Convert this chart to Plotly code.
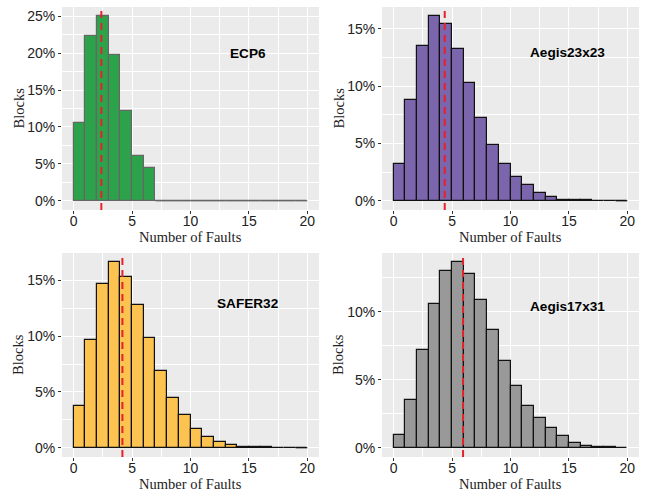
import plotly.graph_objects as go

bins = list(range(20))  # left edges of unit-width bins: 0..19
tick_vals_x = [0, 5, 10, 15, 20]

ecp6 = [10.5, 22.3, 25.0, 19.7, 12.1, 6.1, 4.5] + [0]*13
aegis23 = [3.23, 8.8, 13.5, 16.1, 15.4, 13.2, 10.25, 7.2, 4.83, 3.17,
           2.04, 1.34, 0.66, 0.29, 0.10, 0.05, 0.03, 0.02, 0.01, 0.0]
safer32 = [3.70, 9.64, 14.64, 16.63, 15.33, 12.8, 9.88, 6.9, 4.43, 2.92,
           1.66, 0.93, 0.48, 0.21, 0.10, 0.05, 0.06, 0.02, 0.01, 0.0]
aegis17 = [0.94, 3.53, 7.16, 10.59, 12.96, 13.63, 12.77, 10.89, 8.67, 6.37,
           4.54, 3.09, 2.17, 1.48, 0.86, 0.37, 0.15, 0.07, 0.03, 0.01]

means = {"ECP6": 2.37, "Aegis23x23": 4.37, "SAFER32": 4.17, "Aegis17x31": 5.94}
names = ["ECP6", "Aegis23x23", "SAFER32", "Aegis17x31"]
series = [ecp6, aegis23, safer32, aegis17]
fills = ["#2CA24B", "#7B65AD", "#FDC350", "#999999"]
outlines = ["#666666", "#111111", "#111111", "#111111"]
label_y = [20.0, 12.9, 12.95, 10.4]
y_ticks = [[0, 5, 10, 15, 20, 25], [0, 5, 10, 15], [0, 5, 10, 15], [0, 5, 10]]

W, H = 647, 491
# panel pixel boxes (left, right, top, bottom)
boxes = [(62, 319, 7, 210), (382, 639, 7, 210), (62, 319, 253, 457), (382, 639, 253, 457)]

fig = go.Figure()
layout = dict(width=W, height=H, margin=dict(l=0, r=0, t=0, b=0),
              paper_bgcolor="white", plot_bgcolor="#EBEBEB", showlegend=False,
              bargap=0)
shapes = []
annotations = []
tickfont = dict(family="Liberation Sans, Arial", size=14, color="#222222")
titlefont = dict(family="Liberation Serif, Times New Roman", size=14.5, color="#222222")

for i, (name, vals, fill, oc, ly, yt, box) in enumerate(
        zip(names, series, fills, outlines, label_y, y_ticks, boxes)):
    ax = "" if i == 0 else str(i + 1)
    xa, ya = "x" + ax, "y" + ax
    L, R, T, B = box
    dx = [L / W, R / W]
    dy = [1 - B / H, 1 - T / H]
    centers = [b + 0.5 for b in bins]
    fig.add_trace(go.Bar(x=centers, y=vals, width=1, xaxis=xa, yaxis=ya,
                         marker=dict(color=fill, line=dict(color=oc, width=1.2)),
                         hoverinfo="skip"))
    # zero-height bins: draw their baseline edge as ggplot does
    zx, zy = [], []
    for b, v in zip(bins, vals):
        if v == 0:
            zx += [b, b + 1, None]
            zy += [0, 0, None]
    if zx:
        fig.add_trace(go.Scatter(x=zx, y=zy, mode="lines", xaxis=xa, yaxis=ya,
                                 line=dict(color=oc, width=1.2), hoverinfo="skip"))
    vmax = max(vals)
    ymax_t = max(vmax, yt[-1])
    pad = 0.05 * ymax_t
    minor = [t + 2.5 for t in yt if t + 2.5 < vmax + pad]
    xminor = [2.5, 7.5, 12.5, 17.5]
    layout["xaxis" + ax] = dict(domain=dx, anchor=ya, range=[-1, 21],
                                tickvals=tick_vals_x, ticks="outside", ticklen=3,
                                tickcolor="#333333", tickwidth=1,
                                ticklabelstandoff=-5,
                                tickfont=tickfont,
                                showgrid=True, gridcolor="white", gridwidth=1.3,
                                minor=dict(tickvals=xminor, showgrid=True, gridcolor="white", gridwidth=0.6, ticks=""),
                                zeroline=False, showline=False, fixedrange=True)
    layout["yaxis" + ax] = dict(domain=dy, anchor=xa, range=[-pad, vmax + pad],
                                tickvals=yt, ticktext=[f"{t}%" for t in yt],
                                ticks="outside", ticklen=3, tickcolor="#333333", tickwidth=1,
                                tickfont=tickfont,
                                showgrid=True, gridcolor="white", gridwidth=1.3,
                                minor=dict(tickvals=minor, showgrid=True, gridcolor="white", gridwidth=0.6, ticks=""),
                                zeroline=False, showline=False, fixedrange=True)
    shapes.append(dict(type="line", xref=xa, yref=ya + " domain",
                       x0=means[name], x1=means[name], y0=0, y1=1,
                       line=dict(color="#E8202A", width=2, dash="7px,5px"), layer="above"))
    annotations.append(dict(text=f"<b>{name}</b>", xref=xa, yref=ya, x=14.9, y=ly,
                            showarrow=False, font=dict(family="Liberation Sans, Arial", size=13.6, color="black")))
    # axis titles
    annotations.append(dict(text="Number of Faults", xref="paper", yref="paper",
                            x=(L + (74 - 62) + (307 - 74) / 2) / W, y=1 - (B + 27) / H,
                            showarrow=False, xanchor="center", yanchor="middle",
                            font=titlefont))
    annotations.append(dict(text="Blocks", xref="paper", yref="paper",
                            x=(L - 44) / W, y=1 - ((T + B) / 2) / H, textangle=-90,
                            showarrow=False, xanchor="center", yanchor="middle",
                            font=titlefont))

layout["shapes"] = shapes
layout["annotations"] = annotations
fig.update_layout(**layout)
fig.write_html("out.html")
